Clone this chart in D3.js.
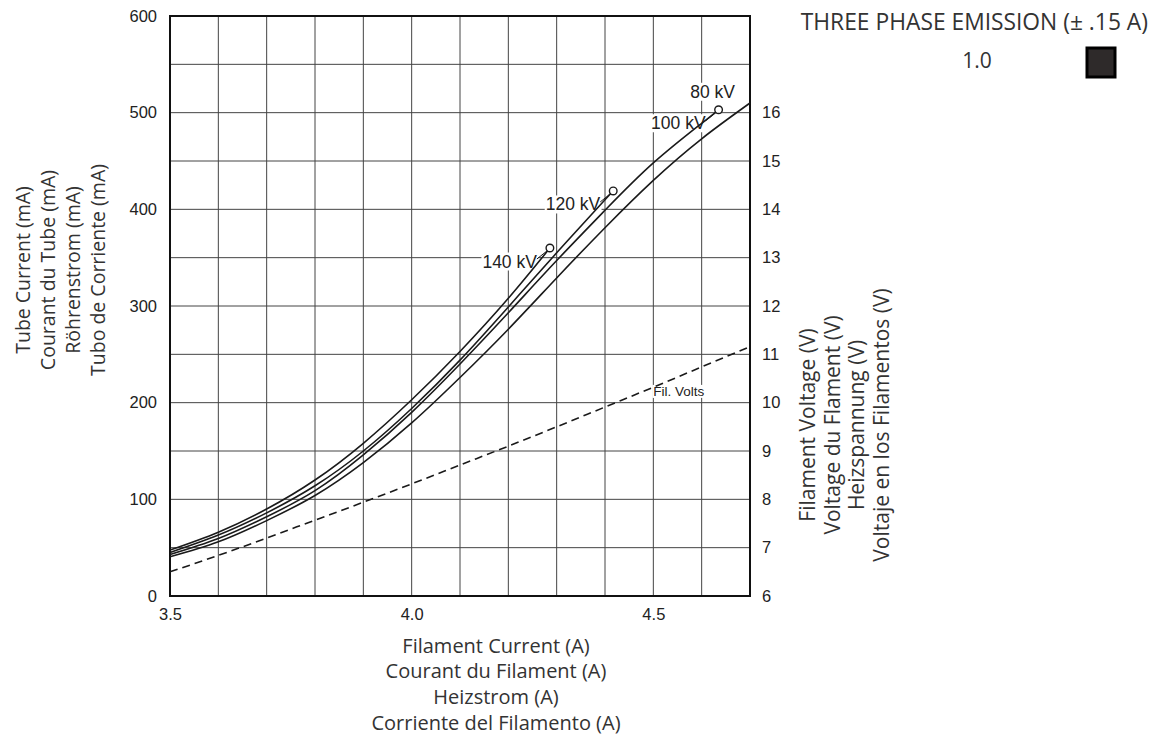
<!DOCTYPE html>
<html>
<head>
<meta charset="utf-8">
<script src="https://cdnjs.cloudflare.com/ajax/libs/d3/7.8.5/d3.min.js"></script>
<style>
  body { margin: 0; background: #fff; }
  .tick text { font-family: "Liberation Sans", Arial, sans-serif; font-size: 16.5px; fill: #222; }
  .title { font-family: "Open Sans", sans-serif; fill: #333; }
</style>
</head>
<body>
<svg id="chart" width="1160" height="736"></svg>
<script>
// filament current (A) sample points
const current = [3.5, 3.6, 3.7, 3.8, 3.9, 4.0, 4.1, 4.2, 4.3, 4.4, 4.5, 4.6, 4.7];

// tube current (mA) per kV curve
const kv140 = [47.5, 66, 90, 120, 158, 203, 253, 308];
const kv120 = [45, 63, 86, 114, 150, 194, 244, 299, 355, 410];
const kv100 = [43, 59.5, 82, 109, 146, 190, 240, 293, 347, 399, 448, 489];
const kv80  = [40.5, 56, 78, 104, 138, 179, 226, 276, 329, 381, 430, 473, 510];

// curve end points (circle markers): [A, mA]
const end140 = [4.286, 360];
const end120 = [4.417, 419];
const end100 = [4.635, 503];

// filament voltage (V)
const filVolts = [6.5, 6.84, 7.2, 7.57, 7.94, 8.32, 8.71, 9.1, 9.5, 9.91, 10.32, 10.74, 11.16];

const mATicks = [0, 100, 200, 300, 400, 500, 600];
const voltTicks = [6, 7, 8, 9, 10, 11, 12, 13, 14, 15, 16];
const ampTicks = [3.5, 4.0, 4.5];

const leftTitle = ["Tube Current (mA)", "Courant du Tube (mA)", "Röhrenstrom (mA)", "Tubo de Corriente (mA)"];
const rightTitle = ["Filament Voltage (V)", "Voltage du Flament  (V)", "Heizspannung (V)", "Voltaje en los Filamentos (V)"];
const bottomTitle = ["Filament Current (A)", "Courant du Filament (A)", "Heizstrom (A)", "Corriente del Filamento (A)"];

const svg = d3.select("#chart");
const pl = 170, pr = 750, pt = 16, pb = 596;

const x = d3.scaleLinear().domain([3.5, 4.7]).range([pl, pr]);
const y = d3.scaleLinear().domain([0, 600]).range([pb, pt]);
const yV = d3.scaleLinear().domain([6, 18]).range([pb, pt]);

// grid
const grid = svg.append("g").attr("stroke", "#444").attr("stroke-width", 1);
d3.range(3.6, 4.65, 0.1).forEach(v => {
  grid.append("line").attr("x1", x(v)).attr("x2", x(v)).attr("y1", pt).attr("y2", pb);
});
d3.range(50, 600, 50).forEach(v => {
  grid.append("line").attr("x1", pl).attr("x2", pr).attr("y1", y(v)).attr("y2", y(v));
});

// axes (labels only)
svg.append("g").attr("transform", `translate(${pl},0)`)
  .call(d3.axisLeft(y).tickValues(mATicks).tickSize(0).tickPadding(13))
  .call(g => g.select(".domain").remove());
svg.append("g").attr("transform", `translate(${pr},0)`)
  .call(d3.axisRight(yV).tickValues(voltTicks).tickSize(0).tickPadding(12))
  .call(g => g.select(".domain").remove());
svg.append("g").attr("transform", `translate(0,${pb})`)
  .call(d3.axisBottom(x).tickValues(ampTicks).tickFormat(d3.format(".1f")).tickSize(0).tickPadding(12))
  .call(g => g.select(".domain").remove());

// frame
svg.append("rect").attr("x", pl).attr("y", pt).attr("width", pr - pl).attr("height", pb - pt)
  .attr("fill", "none").attr("stroke", "#111").attr("stroke-width", 2);

// labels with white background
function label(txt, px, py, anchor, size) {
  const t = svg.append("text").attr("x", px).attr("y", py).attr("text-anchor", anchor)
    .attr("font-family", "Liberation Sans, Arial, sans-serif").attr("font-size", size).attr("fill", "#222")
    .text(txt);
  const b = t.node().getBBox();
  svg.append("rect")
    .attr("x", b.x - 1).attr("y", b.y + 1).attr("width", b.width + 2).attr("height", b.height - 2)
    .attr("fill", "#fff");
  t.raise();
}

const line = d3.line().x(d => x(d[0])).y(d => y(d[1])).curve(d3.curveNatural);
const curves = [
  { vals: kv140, end: end140, name: "140 kV" },
  { vals: kv120, end: end120, name: "120 kV" },
  { vals: kv100, end: end100, name: "100 kV" },
  { vals: kv80, end: null, name: "80 kV" }
];

curves.forEach(c => {
  if (c.end) {
    const cx = x(c.end[0]), cy = y(c.end[1]);
    label(c.name, cx - 13, cy + 19.5, "end", 17.5);
  }
});
label("80 kV", x(end100[0]) - 6, y(end100[1]) - 12, "middle", 17.5);
label("Fil. Volts", x(4.5), y(207), "start", 13.5);

curves.forEach(c => {
  const pts = c.vals.map((v, i) => [current[i], v]);
  if (c.end) pts.push(c.end);
  svg.append("path").datum(pts).attr("d", line)
    .attr("fill", "none").attr("stroke", "#1a1a1a").attr("stroke-width", 1.6);
  if (c.end) {
    const cx = x(c.end[0]), cy = y(c.end[1]);
    svg.append("circle").attr("cx", cx).attr("cy", cy).attr("r", 3.8)
      .attr("fill", "#fff").attr("stroke", "#1a1a1a").attr("stroke-width", 1.4);
    svg.append("line").attr("x1", cx - 13).attr("y1", cy + 11).attr("x2", cx - 3).attr("y2", cy + 3)
      .attr("stroke", "#1a1a1a").attr("stroke-width", 1);
  }
});

// filament voltage, dashed
const vline = d3.line().x((d, i) => x(current[i])).y(d => yV(d)).curve(d3.curveNatural);
svg.append("path").datum(filVolts).attr("d", vline)
  .attr("fill", "none").attr("stroke", "#1a1a1a").attr("stroke-width", 1.6)
  .attr("stroke-dasharray", "8,5");

// axis titles
const lt = svg.append("g").attr("class", "title").attr("transform", "translate(0,270) rotate(-90)");
leftTitle.forEach((t, i) => lt.append("text").attr("x", 0).attr("y", 22 + i * 25)
  .attr("text-anchor", "middle").attr("dominant-baseline", "central").attr("font-size", 19.5).text(t));

const rt = svg.append("g").attr("class", "title").attr("transform", "translate(0,425) rotate(-90)");
rightTitle.forEach((t, i) => rt.append("text").attr("x", 0).attr("y", 807 + i * 24.5)
  .attr("text-anchor", "middle").attr("dominant-baseline", "central").attr("font-size", 21).text(t));

bottomTitle.forEach((t, i) => svg.append("text").attr("class", "title").attr("x", 496).attr("y", 645 + i * 25.7)
  .attr("text-anchor", "middle").attr("dominant-baseline", "central").attr("font-size", 20).text(t));

// legend
svg.append("text").attr("class", "title").attr("x", 1148).attr("y", 30).attr("text-anchor", "end")
  .attr("font-size", 22.8).text("THREE PHASE EMISSION (± .15 A)");
svg.append("text").attr("class", "title").attr("x", 977).attr("y", 68).attr("text-anchor", "middle")
  .attr("font-size", 21).text("1.0");
svg.append("rect").attr("x", 1087).attr("y", 48).attr("width", 28).attr("height", 29)
  .attr("fill", "#2e2a2a").attr("stroke", "#000").attr("stroke-width", 3);
</script>
</body>
</html>
